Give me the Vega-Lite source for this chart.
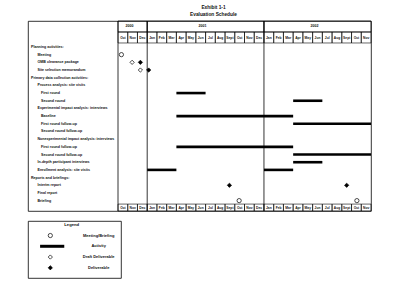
{
  "$schema": "https://vega.github.io/schema/vega-lite/v6.json",
  "padding": {"left": 27, "top": 4, "right": 5, "bottom": 5},
  "background": "white",
  "config": {
    "view": {"stroke": "black", "strokeWidth": 0.8},
    "axis": {"disable": true},
    "font": "Liberation Sans"
  },
  "spacing": 8,
  "resolve": {"scale": {"x": "independent", "y": "independent"}},
  "datasets": {
    "years": [
      {"year": "2000", "start": 0, "end": 3},
      {"year": "2001", "start": 3, "end": 15},
      {"year": "2002", "start": 15, "end": 26}
    ],
    "months": [
      {"m": "Oct", "start": 0, "end": 1}, {"m": "Nov", "start": 1, "end": 2}, {"m": "Dec", "start": 2, "end": 3},
      {"m": "Jan", "start": 3, "end": 4}, {"m": "Feb", "start": 4, "end": 5}, {"m": "Mar", "start": 5, "end": 6},
      {"m": "Apr", "start": 6, "end": 7}, {"m": "May", "start": 7, "end": 8}, {"m": "Jun", "start": 8, "end": 9},
      {"m": "Jul", "start": 9, "end": 10}, {"m": "Aug", "start": 10, "end": 11}, {"m": "Sept", "start": 11, "end": 12},
      {"m": "Oct", "start": 12, "end": 13}, {"m": "Nov", "start": 13, "end": 14}, {"m": "Dec", "start": 14, "end": 15},
      {"m": "Jan", "start": 15, "end": 16}, {"m": "Feb", "start": 16, "end": 17}, {"m": "Mar", "start": 17, "end": 18},
      {"m": "Apr", "start": 18, "end": 19}, {"m": "May", "start": 19, "end": 20}, {"m": "Jun", "start": 20, "end": 21},
      {"m": "Jul", "start": 21, "end": 22}, {"m": "Aug", "start": 22, "end": 23}, {"m": "Sept", "start": 23, "end": 24},
      {"m": "Oct", "start": 24, "end": 25}, {"m": "Nov", "start": 25, "end": 26}
    ],
    "rows": [
      {"row": 0, "label": "Planning activities:", "level": 0},
      {"row": 1, "label": "Meeting", "level": 1},
      {"row": 2, "label": "OMB clearance package", "level": 1},
      {"row": 3, "label": "Site selection memorandum", "level": 1},
      {"row": 4, "label": "Primary data collection activities:", "level": 0},
      {"row": 5, "label": "Process analysis: site visits", "level": 1},
      {"row": 6, "label": "First round", "level": 2},
      {"row": 7, "label": "Second round", "level": 2},
      {"row": 8, "label": "Experimental impact analysis: interviews", "level": 1},
      {"row": 9, "label": "Baseline", "level": 2},
      {"row": 10, "label": "First round follow-up", "level": 2},
      {"row": 11, "label": "Second round follow-up", "level": 2},
      {"row": 12, "label": "Nonexperimental impact analysis: interviews", "level": 1},
      {"row": 13, "label": "First round follow-up", "level": 2},
      {"row": 14, "label": "Second round follow-up", "level": 2},
      {"row": 15, "label": "In-depth participant interviews", "level": 1},
      {"row": 16, "label": "Enrollment analysis: site visits", "level": 1},
      {"row": 17, "label": "Reports and briefings:", "level": 0},
      {"row": 18, "label": "Interim report", "level": 1},
      {"row": 19, "label": "Final report", "level": 1},
      {"row": 20, "label": "Briefing", "level": 1}
    ],
    "bars": [
      {"row": 6, "start": 6, "end": 9},
      {"row": 7, "start": 18, "end": 21},
      {"row": 9, "start": 6, "end": 18},
      {"row": 10, "start": 18, "end": 26},
      {"row": 13, "start": 6, "end": 18},
      {"row": 14, "start": 18, "end": 26},
      {"row": 15, "start": 18, "end": 21},
      {"row": 16, "start": 3, "end": 6},
      {"row": 16, "start": 15, "end": 18}
    ],
    "points": [
      {"row": 1, "t": 0.35, "type": "Meeting/Briefing"},
      {"row": 2, "t": 1.45, "type": "Draft Deliverable"},
      {"row": 2, "t": 2.3, "type": "Deliverable"},
      {"row": 3, "t": 2.3, "type": "Draft Deliverable"},
      {"row": 3, "t": 3.15, "type": "Deliverable"},
      {"row": 18, "t": 11.45, "type": "Deliverable"},
      {"row": 18, "t": 23.5, "type": "Deliverable"},
      {"row": 20, "t": 12.45, "type": "Meeting/Briefing"},
      {"row": 20, "t": 24.55, "type": "Meeting/Briefing"}
    ],
    "legend": [
      {"type": "Legend"},
      {"type": "Meeting/Briefing"},
      {"type": "Activity"},
      {"type": "Draft Deliverable"},
      {"type": "Deliverable"}
    ]
  },
  "vconcat": [
    {
      "width": 343,
      "height": 190,
      "title": {
        "text": ["Exhibit 1-1", "Evaluation Schedule"],
        "fontSize": 4.8,
        "fontWeight": "bold",
        "lineHeight": 7,
        "anchor": "middle",
        "dx": 14,
        "offset": 4,
        "color": "#111"
      },
      "layer": [
        {
          "data": {"name": "years"},
          "mark": {"type": "rect", "fill": "transparent", "stroke": "black", "strokeWidth": 0.7},
          "encoding": {
            "x": {"field": "start", "type": "quantitative", "scale": {"domain": [-9.25, 26], "nice": false, "zero": false}},
            "x2": {"field": "end"},
            "y": {"datum": -3.38, "type": "quantitative", "scale": {"domain": [-3.38, 21.35], "reverse": true, "nice": false, "zero": false}},
            "y2": {"datum": -1.95}
          }
        },
        {
          "data": {"name": "years"},
          "transform": [{"calculate": "(datum.start + datum.end) / 2", "as": "mid"}],
          "mark": {"type": "text", "fontSize": 3.6, "fontWeight": "bold", "color": "#111", "baseline": "middle", "dx": -3},
          "encoding": {
            "x": {"field": "mid", "type": "quantitative"},
            "y": {"datum": -2.67, "type": "quantitative"},
            "text": {"field": "year"}
          }
        },
        {
          "data": {"name": "months"},
          "mark": {"type": "rect", "fill": "transparent", "stroke": "black", "strokeWidth": 0.6},
          "encoding": {
            "x": {"field": "start", "type": "quantitative"},
            "x2": {"field": "end"},
            "y": {"datum": -1.95, "type": "quantitative"},
            "y2": {"datum": -0.52}
          }
        },
        {
          "data": {"name": "months"},
          "mark": {"type": "rect", "fill": "transparent", "stroke": "black", "strokeWidth": 0.6},
          "encoding": {
            "x": {"field": "start", "type": "quantitative"},
            "x2": {"field": "end"},
            "y": {"datum": 20.45, "type": "quantitative"},
            "y2": {"datum": 21.35}
          }
        },
        {
          "data": {"name": "months"},
          "mark": {"type": "text", "fontSize": 3.3, "fontWeight": "bold", "color": "#111", "baseline": "middle", "align": "center", "dx": 4.87},
          "encoding": {
            "x": {"field": "start", "type": "quantitative"},
            "y": {"datum": -1.23, "type": "quantitative"},
            "text": {"field": "m"}
          }
        },
        {
          "data": {"name": "months"},
          "mark": {"type": "text", "fontSize": 3.3, "fontWeight": "bold", "color": "#111", "baseline": "middle", "align": "center", "dx": 4.87},
          "encoding": {
            "x": {"field": "start", "type": "quantitative"},
            "y": {"datum": 20.9, "type": "quantitative"},
            "text": {"field": "m"}
          }
        },
        {
          "data": {"name": "years"},
          "mark": {"type": "rule", "color": "black", "strokeWidth": 0.8},
          "encoding": {"x": {"field": "start", "type": "quantitative"}}
        },
        {
          "mark": {"type": "rule", "color": "black", "strokeWidth": 0.8},
          "encoding": {"y": {"datum": -0.52, "type": "quantitative"}}
        },
        {
          "mark": {"type": "rule", "color": "black", "strokeWidth": 0.8},
          "encoding": {"y": {"datum": 20.45, "type": "quantitative"}}
        },
        {
          "data": {"name": "rows"},
          "transform": [{"filter": "datum.level === 0"}],
          "mark": {"type": "text", "fontSize": 3.6, "fontWeight": "bold", "color": "#111", "align": "left", "baseline": "middle", "dx": 3},
          "encoding": {
            "x": {"datum": -9.25, "type": "quantitative"},
            "y": {"field": "row", "type": "quantitative"},
            "text": {"field": "label"}
          }
        },
        {
          "data": {"name": "rows"},
          "transform": [{"filter": "datum.level === 1"}],
          "mark": {"type": "text", "fontSize": 3.6, "fontWeight": "bold", "color": "#111", "align": "left", "baseline": "middle", "dx": 9.5},
          "encoding": {
            "x": {"datum": -9.25, "type": "quantitative"},
            "y": {"field": "row", "type": "quantitative"},
            "text": {"field": "label"}
          }
        },
        {
          "data": {"name": "rows"},
          "transform": [{"filter": "datum.level === 2"}],
          "mark": {"type": "text", "fontSize": 3.6, "fontWeight": "bold", "color": "#111", "align": "left", "baseline": "middle", "dx": 13},
          "encoding": {
            "x": {"datum": -9.25, "type": "quantitative"},
            "y": {"field": "row", "type": "quantitative"},
            "text": {"field": "label"}
          }
        },
        {
          "data": {"name": "bars"},
          "mark": {"type": "rule", "color": "black", "strokeWidth": 2.6},
          "encoding": {
            "x": {"field": "start", "type": "quantitative"},
            "x2": {"field": "end"},
            "y": {"field": "row", "type": "quantitative"}
          }
        },
        {
          "data": {"name": "points"},
          "mark": {"type": "point", "filled": true, "stroke": "black", "strokeWidth": 0.7, "size": 18, "opacity": 1},
          "encoding": {
            "x": {"field": "t", "type": "quantitative"},
            "y": {"field": "row", "type": "quantitative"},
            "shape": {"field": "type", "type": "nominal", "scale": {"domain": ["Meeting/Briefing", "Draft Deliverable", "Deliverable"], "range": ["circle", "diamond", "diamond"]}, "legend": null},
            "fill": {"field": "type", "type": "nominal", "scale": {"domain": ["Meeting/Briefing", "Draft Deliverable", "Deliverable"], "range": ["white", "white", "black"]}, "legend": null}
          }
        }
      ]
    },
    {
      "width": 93,
      "height": 57,
      "data": {"name": "legend"},
      "layer": [
        {
          "transform": [{"filter": "datum.type === 'Legend'"}],
          "mark": {"type": "text", "fontSize": 4.2, "fontWeight": "bold", "color": "#111", "align": "center", "baseline": "middle"},
          "encoding": {
            "x": {"datum": 47, "type": "quantitative", "scale": {"domain": [0, 100], "nice": false, "zero": false}},
            "y": {"field": "type", "type": "nominal", "scale": {"type": "point", "domain": ["Legend", "Meeting/Briefing", "Activity", "Draft Deliverable", "Deliverable"], "padding": 0.65, "align": 0.27}},
            "text": {"field": "type"}
          }
        },
        {
          "transform": [{"filter": "datum.type !== 'Legend' && datum.type !== 'Activity'"}],
          "mark": {"type": "point", "filled": true, "stroke": "black", "strokeWidth": 0.7, "size": 18, "opacity": 1},
          "encoding": {
            "x": {"datum": 24, "type": "quantitative"},
            "y": {"field": "type", "type": "nominal"},
            "shape": {"field": "type", "type": "nominal", "scale": {"domain": ["Meeting/Briefing", "Draft Deliverable", "Deliverable"], "range": ["circle", "diamond", "diamond"]}, "legend": null},
            "fill": {"field": "type", "type": "nominal", "scale": {"domain": ["Meeting/Briefing", "Draft Deliverable", "Deliverable"], "range": ["white", "white", "black"]}, "legend": null}
          }
        },
        {
          "transform": [{"filter": "datum.type === 'Activity'"}],
          "mark": {"type": "rule", "color": "black", "strokeWidth": 3},
          "encoding": {
            "x": {"datum": 13, "type": "quantitative"},
            "x2": {"datum": 39},
            "y": {"field": "type", "type": "nominal"}
          }
        },
        {
          "transform": [{"filter": "datum.type !== 'Legend'"}],
          "mark": {"type": "text", "fontSize": 4, "fontWeight": "bold", "color": "#111", "align": "center", "baseline": "middle"},
          "encoding": {
            "x": {"datum": 76, "type": "quantitative"},
            "y": {"field": "type", "type": "nominal"},
            "text": {"field": "type"}
          }
        }
      ]
    }
  ]
}
